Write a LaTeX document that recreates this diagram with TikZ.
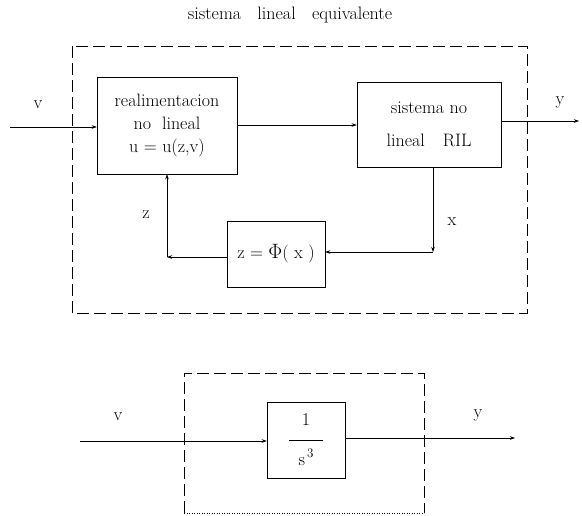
\documentclass[tikz,border=0pt]{standalone}
\usetikzlibrary{arrows.meta}
\begin{document}
\begin{tikzpicture}[x=1pt,y=-1pt,
  txt/.style={font=\fontsize{18}{23}\selectfont},
  blk/.style={draw, line width=0.5pt, txt, align=center, inner sep=0pt},
  conn/.style={line width=0.5pt},
  arr/.style={conn,-{Stealth[length=5pt,width=3.5pt]}},
  frame/.style={line width=0.5pt, dash pattern=on 12pt off 5pt}]
\useasboundingbox (0,0) rectangle (582,515);
% title
\node[txt] (title) at (290,15) {sistema\ \ \ lineal\ \ \ equivalente};
% upper frame
\draw[frame] (72,46) rectangle (527,313);
% blocks
\node[blk, minimum width=140pt, minimum height=97pt] (b1) at (167,125.5)
  {realimentacion\\no\ \ lineal\\u = u(z,v)};
\node[blk, minimum width=144pt, minimum height=85pt] (b2) at (429,124.5)
  {sistema no\\[10pt]lineal\quad RIL};
\node[blk, minimum width=98pt, minimum height=66pt] (phi) at (276,254)
  {z = {\fontsize{22}{23}\selectfont$\Phi$}( x )};
% coordinates
\coordinate (vin) at (10,127);
\coordinate (yout) at (579,121);
\coordinate (c1) at (433,252);
\coordinate (c2) at (167,257);
% connectors
\draw[arr] (vin) -- (vin -| b1.west);
\draw[arr] (b1.east |- 0,125) -- (b2.west |- 0,125);
\draw[arr] (b2.east |- yout) -- (yout);
\draw[arr] (b2.south -| c1) -- (c1);
\draw[arr] (c1) -- (c1 -| phi.east);
\draw[arr] (phi.west |- c2) -- (c2);
\draw[arr] (c2) -- (c2 |- b1.south);
% labels
\node[txt] (lv) at (38,105) {v};
\node[txt] (ly) at (560,102) {y};
\node[txt] (lz) at (146,215) {z};
\node[txt] (lx) at (452,222) {x};
% lower frame
\draw[frame] (184,513) -- (184,373) -- (424,373) -- (424,513);
\draw[line width=0.5pt, dotted] (184,513) -- (424,513);
\node[blk, minimum width=78pt, minimum height=76pt] (b3) at (306,440)
  {1\\[-8pt]\rule{34pt}{0.5pt}\\[2pt]s\raisebox{8pt}{\fontsize{13}{14}\selectfont\,3}};
\coordinate (vin2) at (80,441);
\coordinate (yout2) at (515,438);
\draw[arr] (vin2) -- (vin2 -| b3.west);
\draw[arr] (b3.east |- yout2) -- (yout2);
\node[txt] (lv2) at (118,417) {v};
\node[txt] (ly2) at (478,415) {y};
\end{tikzpicture}
\end{document}
